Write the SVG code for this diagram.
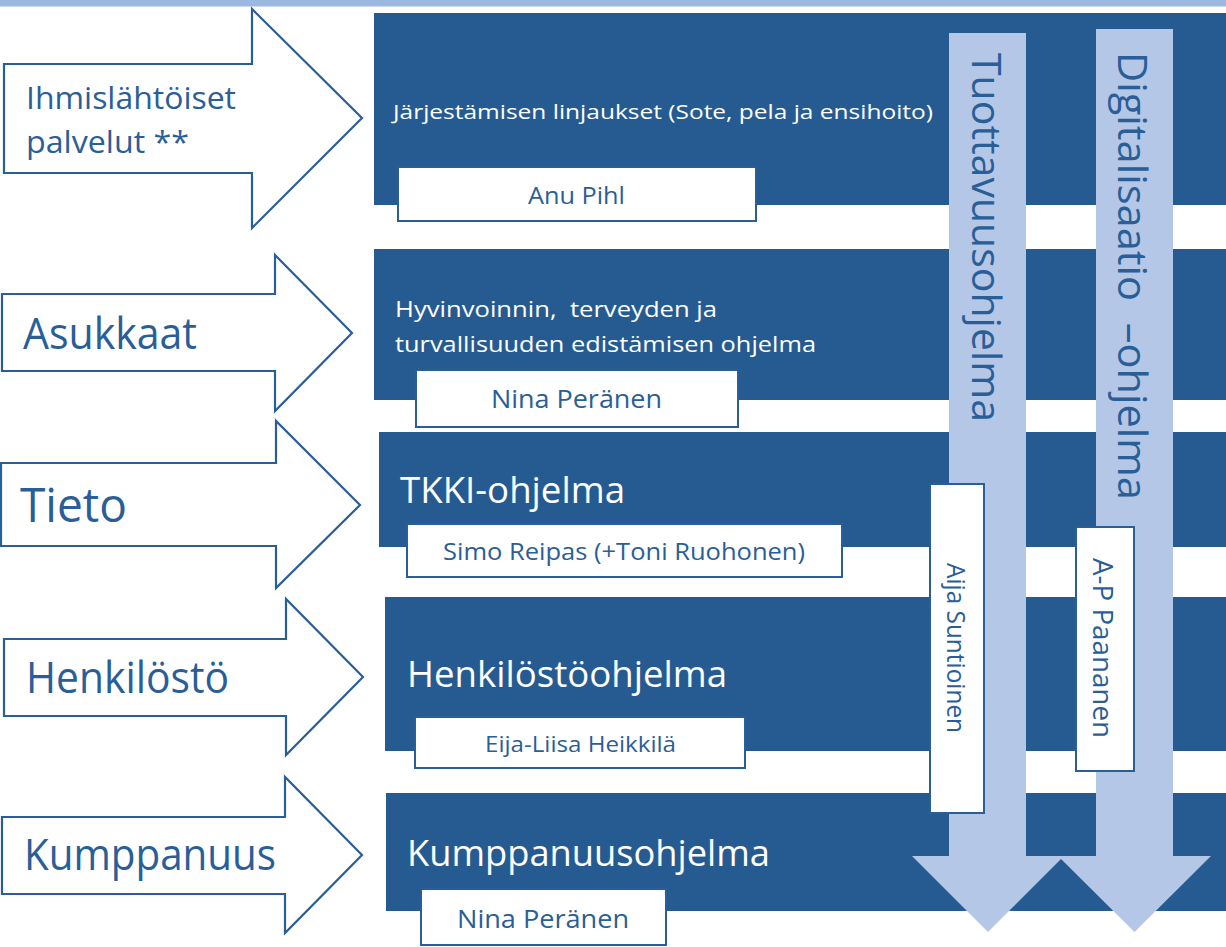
<svg xmlns="http://www.w3.org/2000/svg" width="1226" height="947" viewBox="0 0 1226 947">
<style>
.bar{fill:#265B92}
.inarrow{fill:#fff;stroke:#2A5E97;stroke-width:2.2;stroke-linejoin:miter}
.atxt{font-family:"Open Sans","Noto Sans",sans-serif;fill:#2A5E97}
.btxt{font-family:"Open Sans","Noto Sans",sans-serif;fill:#fff;white-space:pre}
.lbl{fill:#fff;stroke:#2A5E97;stroke-width:2}
.ltxt{font-family:"Open Sans","Noto Sans",sans-serif;fill:#2A5E97;white-space:pre}
.vshaft{fill:#B4C7E7}
</style>
<rect x="0" y="0" width="1226" height="6.5" fill="#9AB8E0"/>

<g id="bar1"><rect class="bar" x="374" y="13" width="852" height="192"/>
<text class="btxt" x="393" y="119" font-size="20" textLength="540" lengthAdjust="spacingAndGlyphs">Järjestämisen linjaukset (Sote, pela ja ensihoito)</text></g>
<g id="bar2"><rect class="bar" x="374" y="249" width="852" height="151"/>
<text class="btxt" x="395" y="317" font-size="22" textLength="322" lengthAdjust="spacingAndGlyphs">Hyvinvoinnin,  terveyden ja</text>
<text class="btxt" x="395" y="352" font-size="22" textLength="421" lengthAdjust="spacingAndGlyphs">turvallisuuden edistämisen ohjelma</text></g>
<g id="bar3"><rect class="bar" x="379" y="432" width="847" height="115"/>
<text class="btxt" x="400" y="503" font-size="37" textLength="225" lengthAdjust="spacingAndGlyphs">TKKI-ohjelma</text></g>
<g id="bar4"><rect class="bar" x="385" y="597" width="841" height="154"/>
<text class="btxt" x="407" y="687" font-size="36" textLength="320" lengthAdjust="spacingAndGlyphs">Henkilöstöohjelma</text></g>
<g id="bar5"><rect class="bar" x="386" y="793" width="840" height="118"/>
<text class="btxt" x="407" y="866" font-size="36" textLength="363" lengthAdjust="spacingAndGlyphs">Kumppanuusohjelma</text></g>

<g id="arrow-ihmis"><path class="inarrow" d="M4,64 H252 V9 L362,118 L252,228 V173 H4 Z"/>
<text class="atxt" x="26" y="109" font-size="31" textLength="210" lengthAdjust="spacingAndGlyphs">Ihmislähtöiset</text>
<text class="atxt" x="26" y="153" font-size="31" textLength="163" lengthAdjust="spacingAndGlyphs">palvelut **</text></g>
<g id="arrow-asukkaat"><path class="inarrow" d="M2,294 H275 V255 L352,333 L275,411 V371 H2 Z"/>
<text class="atxt" x="23" y="349" font-size="44" textLength="174" lengthAdjust="spacingAndGlyphs">Asukkaat</text></g>
<g id="arrow-tieto"><path class="inarrow" d="M1,463 H276 V421 L360,505 L276,588 V546 H1 Z"/>
<text class="atxt" x="20" y="522" font-size="48" textLength="107" lengthAdjust="spacingAndGlyphs">Tieto</text></g>
<g id="arrow-henkilosto"><path class="inarrow" d="M4,639 H286 V599 L363,677 L286,755 V716 H4 Z"/>
<text class="atxt" x="26" y="693" font-size="44" textLength="203" lengthAdjust="spacingAndGlyphs">Henkilöstö</text></g>
<g id="arrow-kumppanuus"><path class="inarrow" d="M2,817 H285 V777 L362,855 L285,933 V894 H2 Z"/>
<text class="atxt" x="24" y="870" font-size="43" textLength="252" lengthAdjust="spacingAndGlyphs">Kumppanuus</text></g>

<g id="label-anu"><rect class="lbl" x="398" y="167" width="358" height="54"/>
<text class="ltxt" x="528" y="204" font-size="23" textLength="97" lengthAdjust="spacingAndGlyphs">Anu Pihl</text></g>
<g id="label-nina1"><rect class="lbl" x="416" y="370" width="322" height="57"/>
<text class="ltxt" x="491" y="408" font-size="26" textLength="171" lengthAdjust="spacingAndGlyphs">Nina Peränen</text></g>
<g id="label-simo"><rect class="lbl" x="407" y="524" width="435" height="53"/>
<text class="ltxt" x="443" y="560" font-size="24" textLength="362" lengthAdjust="spacingAndGlyphs">Simo Reipas (+Toni Ruohonen)</text></g>
<g id="label-eija"><rect class="lbl" x="415" y="717" width="330" height="51"/>
<text class="ltxt" x="485" y="752" font-size="22" textLength="191" lengthAdjust="spacingAndGlyphs">Eija-Liisa Heikkilä</text></g>
<g id="label-nina2"><rect class="lbl" x="421" y="889" width="245" height="56"/>
<text class="ltxt" x="457" y="928" font-size="26" textLength="172" lengthAdjust="spacingAndGlyphs">Nina Peränen</text></g>

<g id="arrow-tuottavuus"><path class="vshaft" d="M949,33 H1026 V856 H1064 L988,932 L912,856 H949 Z"/>
<text class="ltxt" transform="translate(972,53) rotate(90)" font-size="41" textLength="369" lengthAdjust="spacingAndGlyphs">Tuottavuusohjelma</text></g>
<g id="arrow-digitalisaatio"><path class="vshaft" d="M1096,29 H1173 V856 H1211 L1134.5,932 L1058,856 H1096 Z"/>
<text class="ltxt" transform="translate(1118,52) rotate(90)" font-size="41" textLength="448" lengthAdjust="spacingAndGlyphs">Digitalisaatio  –ohjelma</text></g>

<g id="label-aija"><rect class="lbl" x="930" y="484" width="54" height="329"/>
<text class="ltxt" transform="translate(947,563) rotate(90)" font-size="25" textLength="170" lengthAdjust="spacingAndGlyphs">Aija Suntioinen</text></g>
<g id="label-ap"><rect class="lbl" x="1076" y="527" width="58" height="244"/>
<text class="ltxt" transform="translate(1093,558) rotate(90)" font-size="27" textLength="180" lengthAdjust="spacingAndGlyphs">A-P Paananen</text></g>

<g id="connectors"/>
</svg>
